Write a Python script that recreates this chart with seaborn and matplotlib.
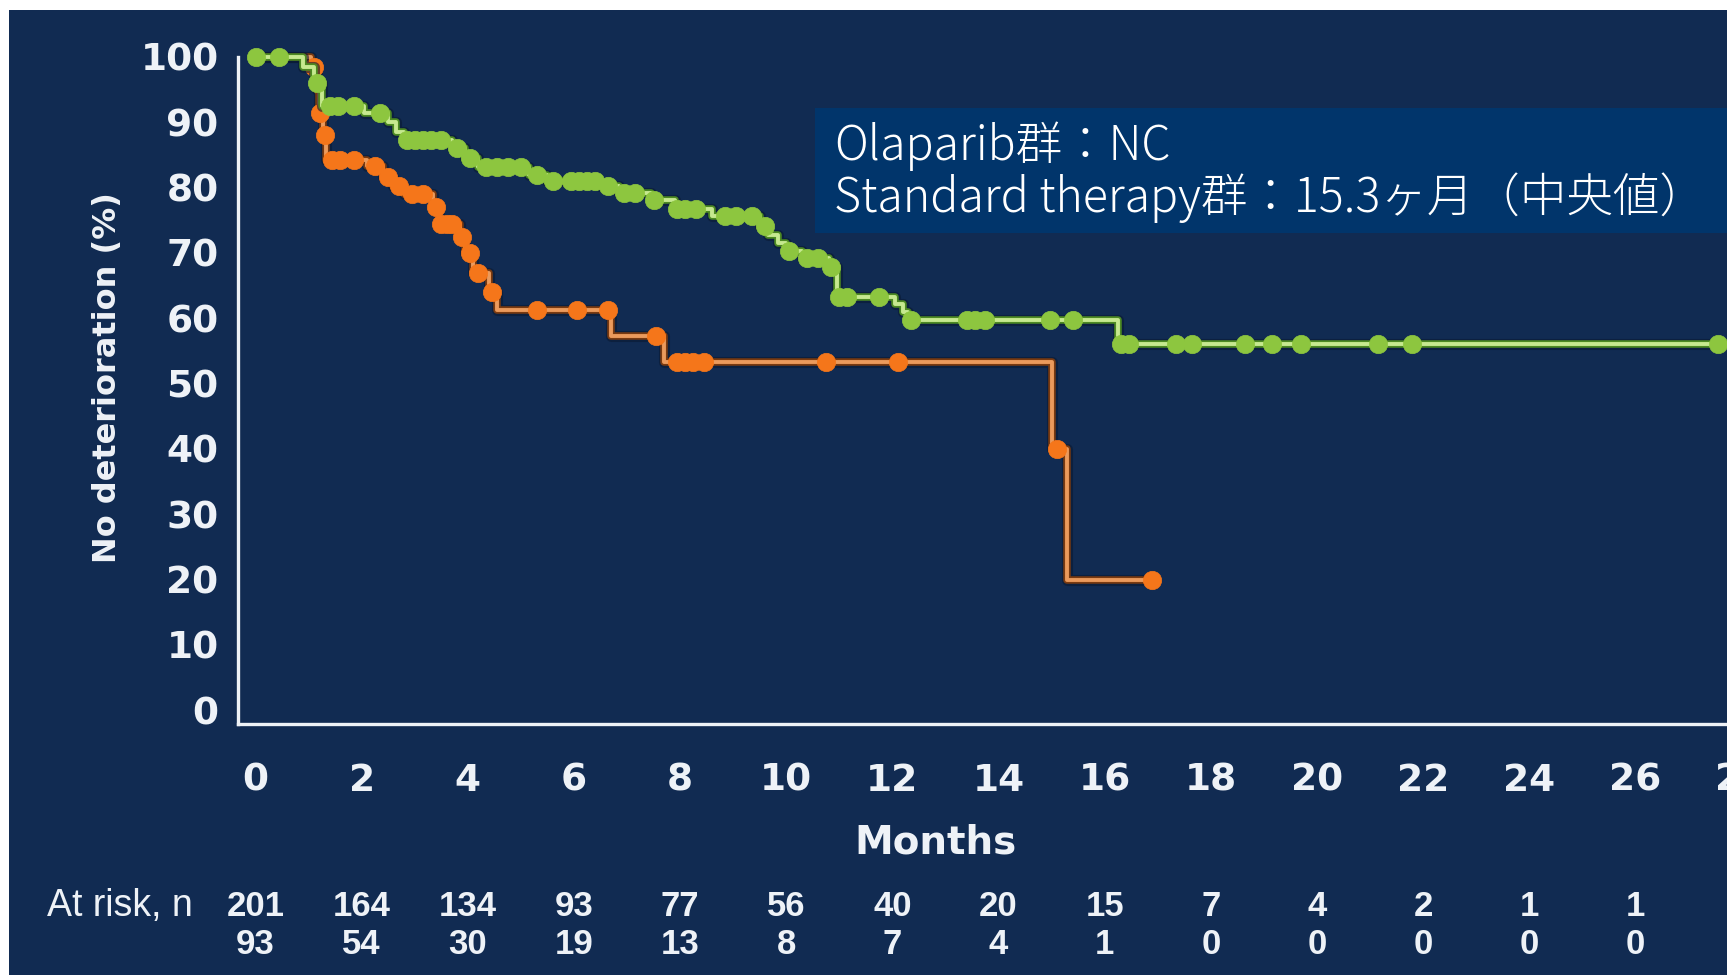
import numpy as np
import pandas as pd
import matplotlib
matplotlib.use("Agg")
import matplotlib.pyplot as plt
import matplotlib.patheffects as pe
from matplotlib.patches import Rectangle
from matplotlib.transforms import blended_transform_factory
import seaborn as sns

# Kaplan-Meier estimates: step times (months) and % with no deterioration after each step
olaparib_times = [0, 0.9, 1.1, 1.25, 2.05, 2.5, 2.65, 2.8, 3.7, 3.95, 4.2, 5.15, 5.5,
                  6.5, 6.85, 7.45, 7.9, 8.6, 9.5, 9.65, 9.85, 10.0, 10.3, 10.8, 10.95,
                  12.05, 12.2, 12.3, 16.25]
olaparib_surv = [100, 98.5, 96.0, 92.5, 91.5, 90.0, 88.5, 87.3, 86.0, 84.5, 83.2, 81.9, 81.0,
                 80.2, 79.2, 78.1, 76.7, 75.6, 74.2, 72.8, 71.5, 70.3, 69.3, 67.8, 63.3,
                 62.2, 61.0, 59.8, 56.0]
olaparib_end = 27.55
olaparib_censor = [0, 0.45, 1.15, 1.4, 1.55, 1.85, 2.35, 2.85, 3.0, 3.15, 3.3, 3.5, 3.8,
                   4.05, 4.35, 4.55, 4.75, 5.0, 5.3, 5.6, 5.95, 6.1, 6.25, 6.4, 6.65, 6.95,
                   7.15, 7.5, 7.95, 8.1, 8.3, 8.85, 9.05, 9.35, 9.6, 10.05, 10.4, 10.6,
                   10.85, 11.0, 11.15, 11.75, 12.35, 13.4, 13.55, 13.75, 14.98, 15.4,
                   16.3, 16.45, 17.35, 17.65, 18.65, 19.15, 19.7, 21.15, 21.8, 27.55]

standard_times = [0, 1.05, 1.15, 1.2, 1.27, 1.33, 2.1, 2.4, 2.6, 2.8, 3.35, 3.45, 3.85,
                  3.95, 4.1, 4.4, 4.55, 6.7, 7.7, 15.0, 15.3]
standard_surv = [100, 98.5, 95.0, 91.5, 88.0, 84.3, 83.3, 81.7, 80.2, 79.0, 77.0, 74.5, 72.5,
                 70.0, 67.0, 64.0, 61.2, 57.3, 53.3, 40.0, 20.0]
standard_end = 16.9
standard_censor = [1.1, 1.22, 1.3, 1.45, 1.6, 1.85, 2.25, 2.5, 2.7, 2.95, 3.15, 3.4, 3.5,
                   3.6, 3.7, 3.9, 4.05, 4.2, 4.45, 5.3, 6.05, 6.65, 7.55, 7.95, 8.1, 8.25,
                   8.45, 10.75, 12.1, 15.1, 16.9]

month_ticks = list(range(0, 30, 2))
pct_ticks = list(range(0, 101, 10))
at_risk_olaparib = [201, 164, 134, 93, 77, 56, 40, 20, 15, 7, 4, 2, 1, 1, 0]
at_risk_standard = [93, 54, 30, 19, 13, 8, 7, 4, 1, 0, 0, 0, 0, 0, 0]

note_lines = ["Olaparib群：NC", "Standard therapy群：15.3ヶ月（中央値）"]

NAVY = "#112b52"
BOX = "#01356b"
TEXT = "#eef2f7"
GREEN_DOT, GREEN_LINE, GREEN_EDGE = "#8dc63f", "#c6e98f", "#4d8a22"
ORANGE_DOT, ORANGE_LINE, ORANGE_EDGE = "#f5761a", "#eb9a5c", "#7a3a10"

sns.set_theme(style="white")
plt.rcParams["font.family"] = ["DejaVu Sans"]

W, H = 1727, 975
fig = plt.figure(figsize=(W / 100, H / 100), dpi=100, facecolor="white")
fig.add_artist(Rectangle((9 / W, 0), 1, (H - 10) / H, transform=fig.transFigure,
                         facecolor=NAVY, edgecolor="none", zorder=-10))

ax = fig.add_axes([238 / W, 251 / H, 1530 / W, 667 / H])
ax.set_facecolor("none")


def km_frame(times, surv, end):
    return pd.DataFrame({"month": list(times) + [end], "pct": list(surv) + [surv[-1]]})


def value_at(times, surv, t):
    idx = np.searchsorted(np.asarray(times), np.asarray(t), side="right") - 1
    return np.asarray(surv)[idx]


arms = [
    (standard_times, standard_surv, standard_end, standard_censor,
     ORANGE_DOT, ORANGE_LINE, ORANGE_EDGE),
    (olaparib_times, olaparib_surv, olaparib_end, olaparib_censor,
     GREEN_DOT, GREEN_LINE, GREEN_EDGE),
]
for k, (t, s, end, cens, dot, line, edge) in enumerate(arms):
    sns.lineplot(data=km_frame(t, s, end), x="month", y="pct", ax=ax,
                 estimator=None, sort=False, drawstyle="steps-post",
                 color=line, linewidth=2.8, clip_on=False, zorder=2 + 2 * k,
                 path_effects=[pe.Stroke(linewidth=8, foreground="#0a1a33", alpha=0.6),
                               pe.Stroke(linewidth=5.4, foreground=edge), pe.Normal()])
    sns.scatterplot(x=cens, y=value_at(t, s, cens), ax=ax, color=dot, s=175,
                    edgecolor=dot, linewidth=0.5, clip_on=False, zorder=3 + 2 * k)

ax.set_xlim(-0.33, 28.5)
ax.set_ylim(-2.1, 100)
ax.set_xticks(month_ticks)
ax.set_yticks(pct_ticks)
for side in ["top", "right"]:
    ax.spines[side].set_visible(False)
for side in ["left", "bottom"]:
    ax.spines[side].set_color(TEXT)
    ax.spines[side].set_linewidth(2.4)
    ax.spines[side].set_capstyle("projecting")
ax.tick_params(axis="both", colors=TEXT, length=8, width=2.4, direction="out",
               labelsize=27)
ax.tick_params(axis="x", pad=20)
ax.tick_params(axis="y", pad=6)
for lab in ax.get_xticklabels() + ax.get_yticklabels():
    lab.set_fontweight("bold")

ax.set_xlabel("Months", color=TEXT, fontsize=28, fontweight="bold")
ax.xaxis.set_label_coords(0.456, -0.178)
ax.xaxis.label.set_va("center")
ax.set_ylabel("No deterioration (%)", color=TEXT, fontsize=23, fontweight="bold")
ax.yaxis.set_label_coords(-0.0856, 0.519)
ax.yaxis.label.set_va("center")

# number at risk beneath the month axis
trans = blended_transform_factory(ax.transData, fig.transFigure)
for row_y, counts in [(906, at_risk_olaparib), (945, at_risk_standard)]:
    for m, n in zip(month_ticks, counts):
        ax.text(m, 1 - row_y / H, str(n), transform=trans, ha="center", va="center",
                color=TEXT, fontsize=25, fontweight="bold", family="Liberation Sans")
fig.text(193 / W, 1 - 906 / H, "At risk, n", ha="right", va="center", color=TEXT,
         fontsize=27, family="Liberation Sans")

# median summary panel
fig.add_artist(Rectangle((815 / W, 1 - 233 / H), 1, 125 / H, transform=fig.transFigure,
                         facecolor=BOX, edgecolor="none", zorder=10))
for y_px, line in zip([146, 198], note_lines):
    fig.text(834 / W, 1 - y_px / H, line, ha="left", va="center", color="white",
             fontsize=33.5, fontweight="light", zorder=11,
             family=["Noto Sans CJK JP", "DejaVu Sans"])

fig.savefig("out.png", dpi=100, facecolor=fig.get_facecolor())
